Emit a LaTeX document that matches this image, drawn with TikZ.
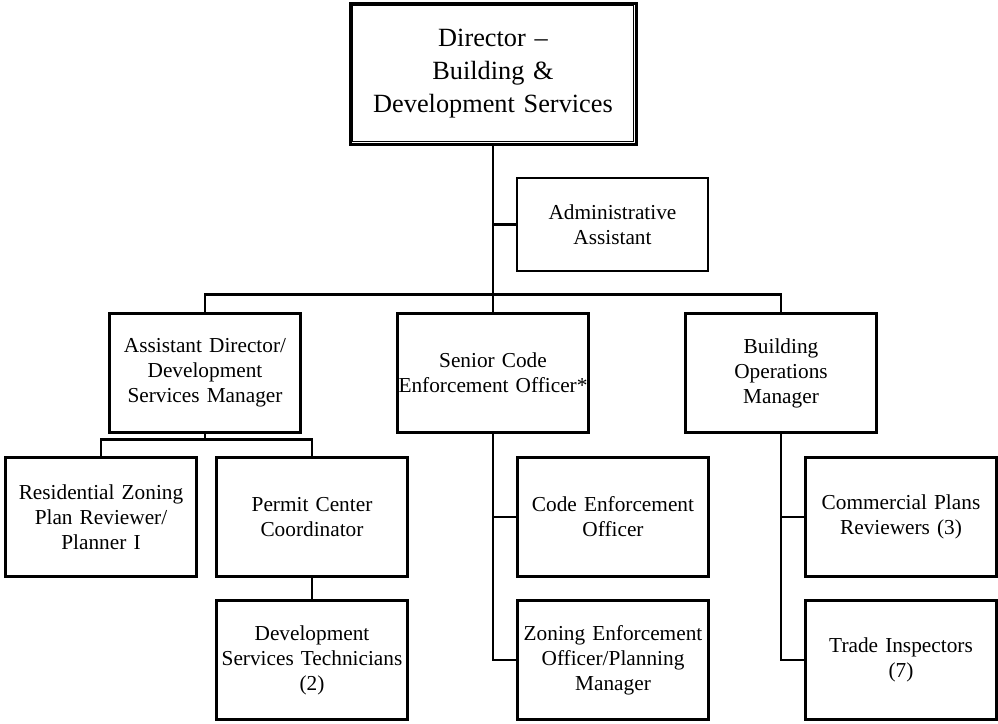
\documentclass[tikz,border=0pt]{standalone}
\usepackage{fontspec}
\setmainfont{Liberation Serif}
\begin{document}
\begin{tikzpicture}[x=1pt,y=-1pt,
    post/.style={draw, line width=2.2pt, align=center, text width=200pt, inner xsep=-4.5pt,
        inner ysep=0.5pt, minimum height=119pt, font=\fontsize{21.3}{25}\selectfont},
    link/.style={line width=2.2pt}]
    \useasboundingbox (0,0) rectangle (998,723);

    % Director
    \node[draw, line width=3pt, align=center, text width=280pt, inner sep=3pt,
        minimum height=141pt, font=\fontsize{26.3}{33}\selectfont] (dir) at (493,73.5)
        {Director –\\ Building \&\\ Development Services};
    \draw[line width=1.6pt] ([shift={(4,4)}]dir.north west) rectangle ([shift={(-4,-4)}]dir.south east);

    % Staff
    \node[post, minimum height=93pt] (admin) at (612.5,224.5) {Administrative\\ Assistant};

    % Managers
    \node[post] (asst) at (205,373) {Assistant Director/\\ Development\\ Services Manager};
    \node[post] (senior) at (493,373) {Senior Code\\ Enforcement Officer*};
    \node[post] (bldg) at (781,373) {Building\\ Operations\\ Manager};

    % Development services
    \node[post] (resid) at (101,517) {Residential Zoning\\ Plan Reviewer/\\ Planner I};
    \node[post] (permit) at (312,517) {Permit Center\\ Coordinator};
    \node[post] (techs) at (312,660) {Development\\ Services Technicians\\ (2)};

    % Code enforcement
    \node[post] (code) at (613,517) {Code Enforcement\\ Officer};
    \node[post] (zoning) at (613,660) {Zoning Enforcement\\ Officer/Planning\\ Manager};

    % Building operations
    \node[post] (comm) at (901,517) {Commercial Plans\\ Reviewers (3)};
    \node[post] (trade) at (901,660) {Trade Inspectors\\ (7)};

    % Lines
    \draw[link] (dir.south) -- (senior.north);
    \draw[link] (admin.west) -- (admin.west -| dir.south);
    \draw[link] (asst.north) -- ++(0,-18) -| (bldg.north);
    \draw[link] (asst.south) -- ++(0,7);
    \draw[link] (resid.north) -- ++(0,-17) -| (permit.north);
    \draw[link] (permit) -- (techs);
    \draw[link] (senior.south) |- (zoning.west);
    \draw[link] (code.west) -- (code.west -| senior.south);
    \draw[link] (bldg.south) |- (trade.west);
    \draw[link] (comm.west) -- (comm.west -| bldg.south);

\end{tikzpicture}
\end{document}
